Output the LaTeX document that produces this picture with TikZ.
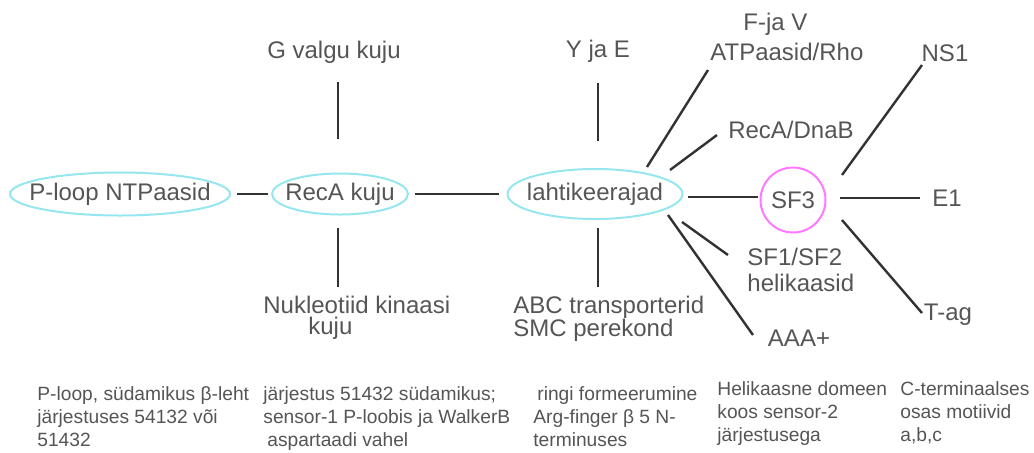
\documentclass[tikz,border=0pt]{standalone}
\usepackage{fontspec}
\setmainfont{Liberation Sans}
\usetikzlibrary{positioning}
\definecolor{tekst}{RGB}{85,85,85}
\definecolor{joonevarv}{RGB}{50,50,50}
\definecolor{helesinine}{RGB}{150,230,240}
\definecolor{roosa}{RGB}{255,120,255}

\begin{document}
\begin{tikzpicture}[
    x=0.5pt, y=-0.5pt,
    silt/.style={text=tekst, inner sep=0pt, font=\fontsize{12}{14}\selectfont},
    kast/.style={silt, align=left, anchor=north west},
    markus/.style={text=tekst, inner sep=0pt, align=left, anchor=north west, font=\fontsize{9.6}{11.5}\selectfont},
    ring/.style={draw=helesinine, line width=1pt},
    sfring/.style={silt, circle, draw=roosa, line width=1pt, minimum size=32.5pt},
    joon/.style={draw=joonevarv, line width=1.2pt},
  ]
  \useasboundingbox (0,0) rectangle (1034,452);

  % --- keskmine rida ---
  \node[silt] (ploop) at (120,194) {P-loop NTPaasid};
  \node[silt] (reca) at (340,194) {RecA kuju};
  \node[silt] (lahti) at (595,194) {lahtikeerajad};
  \node[sfring] (sf3) at (793,200) {SF3};
  \draw[ring] (ploop.center) ellipse [x radius=55pt, y radius=10.75pt];
  \draw[ring] (reca.center) ellipse [x radius=34pt, y radius=10.25pt];
  \draw[ring] (lahti.center) ellipse [x radius=43.75pt, y radius=12.5pt];

  % --- harud ---
  \node[silt] (gvalk) at (334,52) {G valgu kuju};
  \node[kast, font=\fontsize{12}{10.5}\selectfont] (nukl) at (263,296) {Nukleotiid kinaasi\\\hspace*{22.5pt}kuju};
  \node[silt] (yjae) at (598,51) {Y ja E};
  \node[kast, font=\fontsize{12}{11.5}\selectfont] (abc) at (513,296) {ABC transporterid\\SMC perekond};
  \node[kast, font=\fontsize{12}{15}\selectfont] (fjav) at (710,13) {\hspace*{16.5pt}F-ja V\\ATPaasid/Rho};
  \node[silt] (recadnab) at (791,130) {RecA/DnaB};
  \node[kast, font=\fontsize{12}{13}\selectfont] (sfhel) at (747,248) {SF1/SF2\\helikaasid};
  \node[silt] (aaa) at (799,338) {AAA+};
  \node[silt] (ns1) at (945,53) {NS1};
  \node[silt] (e1) at (947,198) {E1};
  \node[silt] (tag) at (948,315) {T-ag};

  % --- märkused all ---
  \node[markus] (m1) at (37,386) {P-loop, südamikus β-leht\\järjestuses 54132 või\\51432};
  \node[markus] (m2) at (263,386) {järjestus 51432 südamikus;\\sensor-1 P-loobis ja WalkerB\\\hspace*{2pt}aspartaadi vahel};
  \node[markus] (m3) at (533,386) {\hspace*{2pt}ringi formeerumine\\Arg-finger β 5 N-\\terminuses};
  \node[markus] (m4) at (717,381) {Helikaasne domeen\\koos sensor-2\\järjestusega};
  \node[markus] (m5) at (900,381) {C-terminaalses\\osas motiivid\\a,b,c};

  % ühendused
  \draw[joon] ([shift={(117,0)}]ploop.center) -- ([shift={(-72,0)}]reca.center);
  \draw[joon] ([shift={(75,0)}]reca.center) -- ([shift={(-96,0)}]lahti.center);
  \draw[joon] ([shift={(4,30)}]gvalk.center) -- ([shift={(-2,-55)}]reca.center);
  \draw[joon] ([shift={(-2,34)}]reca.center) -- ([shift={(75,-9)}]nukl.north west);
  \draw[joon] ([shift={(0,32)}]yjae.center) -- ([shift={(3,-53)}]lahti.center);
  \draw[joon] ([shift={(3,34)}]lahti.center) -- ([shift={(85,-9)}]abc.north west);
  \draw[joon] ([shift={(93,3)}]lahti.center) -- ([shift={(-35,-3)}]sf3.center);
  \draw[joon] ([shift={(52,-27)}]lahti.center) -- ([shift={(-2,57)}]fjav.north west);
  \draw[joon] ([shift={(75,-24)}]lahti.center) -- ([shift={(-74,5)}]recadnab.center);
  \draw[joon] ([shift={(87,28)}]lahti.center) -- ([shift={(-19,7)}]sfhel.north west);
  \draw[joon] ([shift={(73,21)}]lahti.center) -- ([shift={(-46,-3)}]aaa.center);
  \draw[joon] ([shift={(49,-25)}]sf3.center) -- ([shift={(-23,12)}]ns1.center);
  \draw[joon] ([shift={(47,-2)}]sf3.center) -- ([shift={(-27,0)}]e1.center);
  \draw[joon] ([shift={(49,20)}]sf3.center) -- ([shift={(-26,-2)}]tag.center);
\end{tikzpicture}
\end{document}
